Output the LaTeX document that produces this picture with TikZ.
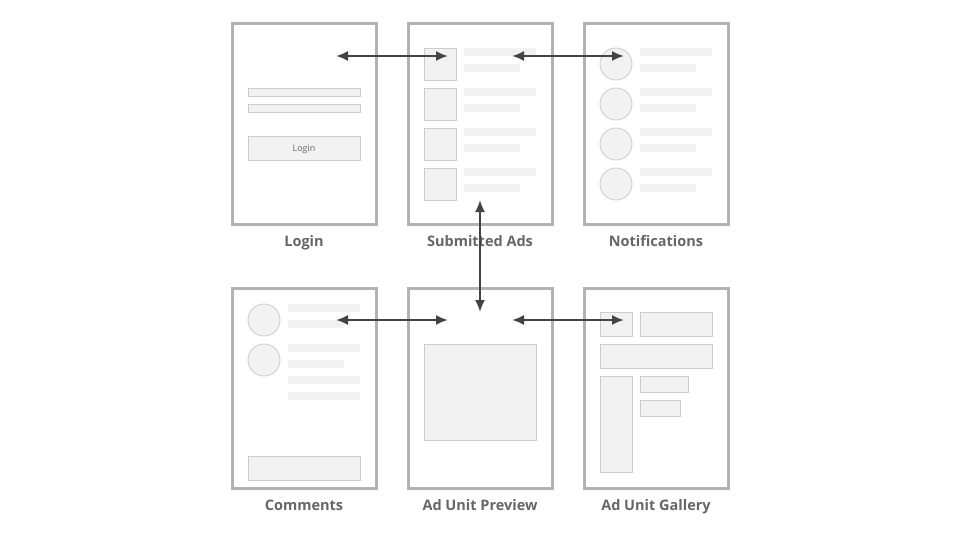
\documentclass[tikz,border=0pt]{standalone}
\usepackage{fontspec}
\setmainfont{Open Sans}
\usetikzlibrary{arrows.meta}
\definecolor{framegray}{HTML}{B3B3B3}
\definecolor{boxfill}{HTML}{F2F2F2}
\definecolor{boxline}{HTML}{CCCCCC}
\definecolor{labelgray}{HTML}{666666}
\definecolor{arrowgray}{HTML}{444444}
\tikzset{
  screen/.style={draw=framegray, line width=3pt, fill=white, minimum width=144pt, minimum height=200pt, inner sep=0pt},
  title/.style={text=labelgray, font=\bfseries\fontsize{14.5}{16}\selectfont, inner sep=0pt, anchor=base},
  widget/.style={draw=boxline, line width=0.8pt, fill=boxfill},
  textline/.style={fill=boxfill},
  avatar/.style={draw=boxline, line width=0.8pt, fill=boxfill},
  link/.style={draw=arrowgray, line width=2pt, {Latex[length=12pt,width=10pt]}-{Latex[length=12pt,width=10pt]}},
}
\begin{document}
\begin{tikzpicture}[x=1pt,y=-1pt]
\useasboundingbox (0,0) rectangle (960,540);

% screens
\node[screen] (login) at (304,124) {};
\node[screen] (ads)   at (480,124) {};
\node[screen] (notif) at (656,124) {};
\node[screen] (comm)  at (304,388) {};
\node[screen] (prev)  at (480,388) {};
\node[screen] (gall)  at (656,388) {};

% titles (placed on their baselines)
\node[title] (tlogin) at (304,246) {Login};
\node[title] (tads)   at (480,246) {Submitted Ads};
\node[title] (tnotif) at (656,246) {Notifications};
\node[title] (tcomm)  at (304,510) {Comments};
\node[title] (tprev)  at (480,510) {Ad Unit Preview};
\node[title] (tgall)  at (656,510) {Ad Unit Gallery};

% login form
\draw[widget] (248,88) rectangle (360,96);
\draw[widget] (248,104) rectangle (360,112);
\draw[widget] (248,136) rectangle (360,160);
\node[text=labelgray, font=\fontsize{9}{10}\selectfont, inner sep=0pt, anchor=base] (loginbtn) at (304,151.5) {Login};

% submitted ads list
\foreach \i in {0,...,3} {
  \draw[widget] (424,48+40*\i) rectangle (456,80+40*\i);
  \fill[textline] (464,48+40*\i) rectangle (536,56+40*\i);
  \fill[textline] (464,64+40*\i) rectangle (520,72+40*\i);
}

% notifications list
\foreach \i in {0,...,3} {
  \draw[avatar] (616,64+40*\i) circle (16);
  \fill[textline] (640,48+40*\i) rectangle (712,56+40*\i);
  \fill[textline] (640,64+40*\i) rectangle (696,72+40*\i);
}

% comments
\draw[avatar] (264,320) circle (16);
\draw[avatar] (264,360) circle (16);
\fill[textline] (288,304) rectangle (360,312);
\fill[textline] (288,320) rectangle (344,328);
\fill[textline] (288,344) rectangle (360,352);
\fill[textline] (288,360) rectangle (344,368);
\fill[textline] (288,376) rectangle (360,384);
\fill[textline] (288,392) rectangle (360,400);
\draw[widget] (248,456) rectangle (360,480);

% ad unit preview
\draw[widget] (424,344) rectangle (536,440);

% ad unit gallery
\draw[widget] (600,312) rectangle (632,336);
\draw[widget] (640,312) rectangle (712,336);
\draw[widget] (600,344) rectangle (712,368);
\draw[widget] (600,376) rectangle (632,472);
\draw[widget] (640,376) rectangle (688,392);
\draw[widget] (640,400) rectangle (680,416);

% navigation anchors
\coordinate (loginL) at (336,56);
\coordinate (adsL)   at (448,56);
\coordinate (adsR)   at (512,56);
\coordinate (notifR) at (624,56);
\coordinate (adsB)   at (480,200);
\coordinate (prevT)  at (480,312);
\coordinate (commR)  at (336,320);
\coordinate (prevL)  at (448,320);
\coordinate (prevR)  at (512,320);
\coordinate (gallL)  at (624,320);

% navigation
\draw[link] (loginL) -- (adsL);
\draw[link] (adsR) -- (notifR);
\draw[link] (adsB) -- (prevT);
\draw[link] (commR) -- (prevL);
\draw[link] (prevR) -- (gallL);
\end{tikzpicture}
\end{document}
